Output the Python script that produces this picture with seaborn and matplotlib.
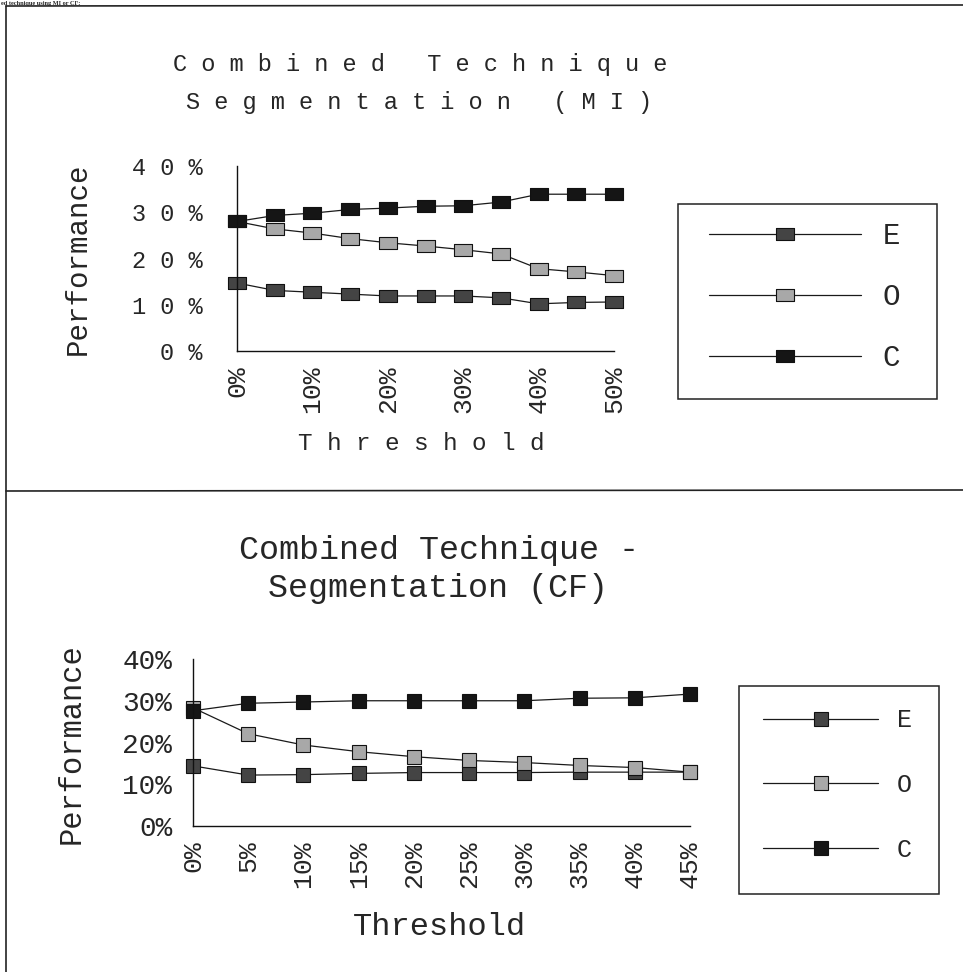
import matplotlib
matplotlib.use("Agg")
import matplotlib.pyplot as plt
from matplotlib.lines import Line2D
from matplotlib.patches import Rectangle
import pandas as pd
import seaborn as sns

# ---------------- data ----------------
series_names = ["E", "O", "C"]

mi_threshold = [0, 5, 10, 15, 20, 25, 30, 35, 40, 45, 50]
mi_E = [14.7, 13.1, 12.7, 12.3, 11.9, 11.9, 11.9, 11.5, 10.2, 10.5, 10.6]
mi_O = [28.0, 26.4, 25.5, 24.3, 23.4, 22.7, 21.9, 21.0, 17.8, 17.1, 16.3]
mi_C = [28.0, 29.3, 29.8, 30.6, 30.9, 31.3, 31.4, 32.2, 33.9, 33.9, 33.9]

cf_threshold = [0, 5, 10, 15, 20, 25, 30, 35, 40, 45]
cf_E = [14.4, 12.2, 12.3, 12.6, 12.8, 12.8, 12.8, 12.9, 12.9, 12.9]
cf_O = [28.3, 22.1, 19.4, 17.8, 16.6, 15.7, 15.2, 14.5, 14.0, 12.9]
cf_C = [27.6, 29.4, 29.7, 30.0, 30.0, 30.0, 30.0, 30.6, 30.7, 31.6]

y_ticks = [0, 10, 20, 30, 40]
mi_yticklabels = ["0 %", "1 0 %", "2 0 %", "3 0 %", "4 0 %"]
cf_yticklabels = ["0%", "10%", "20%", "30%", "40%"]
mi_xticklabels = ["0%", "", "10%", "", "20%", "", "30%", "", "40%", "", "50%"]
cf_xticklabels = ["0%", "5%", "10%", "15%", "20%", "25%", "30%", "35%", "40%", "45%"]

mi_title = ["C o m b i n e d   T e c h n i q u e", "S e g m e n t a t i o n   ( M I )"]
cf_title = ["Combined Technique -", "Segmentation (CF)"]
caption = "ed technique using MI or CF:"

# ---------------- style ----------------
sns.set_style("white")
plt.rcParams["font.family"] = ["Liberation Mono", "DejaVu Sans Mono"]

W, H = 963, 972
fig = plt.figure(figsize=(W / 100, H / 100), dpi=100)

face = {"E": "#444444", "O": "#a8a8a8", "C": "#151515"}
rect_marker = [(-1, -0.6), (1, -0.6), (1, 0.6), (-1, 0.6), (-1, -0.6)]


def fx(px):
    return px / W


def fy(py):
    return 1 - py / H


def draw_panel(ax, thr, vals, marker, msize):
    for name, v in zip(series_names, vals):
        df = pd.DataFrame({"Threshold": thr, "Performance": v})
        sns.lineplot(data=df, x="Threshold", y="Performance", ax=ax,
                     color="#1a1a1a", lw=0.9, marker=marker, markersize=msize,
                     markerfacecolor=face[name], markeredgecolor="#111111",
                     markeredgewidth=0.8, errorbar=None, clip_on=False,
                     label=name, legend=False)
    sns.despine(ax=ax)
    for s in ("left", "bottom"):
        ax.spines[s].set_linewidth(1.0)
        ax.spines[s].set_color("#111111")
    ax.set_ylim(0, 40)
    ax.set_yticks(y_ticks)
    ax.set_xticks(thr)
    ax.set_xlim(thr[0], thr[-1])


# ---------------- top panel (MI) ----------------
ax1 = fig.add_axes([fx(237), fy(351), fx(614) - fx(237), fy(166) - fy(351)])
draw_panel(ax1, mi_threshold, [mi_E, mi_O, mi_C], rect_marker, 13.5)
ax1.set_yticklabels(mi_yticklabels, fontsize=17)
ax1.set_xticklabels(mi_xticklabels, rotation=90, fontsize=19)
ax1.tick_params(axis="y", direction="in", length=4, width=0.9, pad=25)
ax1.tick_params(axis="x", direction="in", length=4, width=0.9, pad=10)
ax1.set_ylabel("Performance", fontsize=21)
ax1.yaxis.label.set_va("center")
ax1.yaxis.set_label_coords((78 - 237) / 377, (351 - 259) / 185)
ax1.set_xlabel("T h r e s h o l d", fontsize=17.5)
ax1.xaxis.label.set_va("center")
ax1.xaxis.set_label_coords((421 - 237) / 377, (351 - 443) / 185)

fig.text(fx(420), fy(65), mi_title[0], ha="center", va="center", fontsize=17)
fig.text(fx(419), fy(102), mi_title[1], ha="center", va="center", fontsize=17)

fig.add_artist(Rectangle((fx(678), fy(399)), fx(937) - fx(678), fy(204) - fy(399),
                         transform=fig.transFigure, fill=False, lw=1.1, ec="#222222"))
fig.legend(ax1.get_lines()[:3], series_names, loc="center left",
           bbox_to_anchor=(fx(709), fy(297)), frameon=False, borderpad=0,
           borderaxespad=0, handlelength=5.2, handletextpad=0.75,
           labelspacing=1.14, prop={"family": ["Liberation Mono"], "size": 21})

# ---------------- bottom panel (CF) ----------------
ax2 = fig.add_axes([fx(193), fy(826), fx(690) - fx(193), fy(659) - fy(826)])
draw_panel(ax2, cf_threshold, [cf_E, cf_O, cf_C], "s", 10)
ax2.set_yticklabels(cf_yticklabels, fontsize=20)
ax2.set_xticklabels(cf_xticklabels, rotation=90, fontsize=19)
ax2.tick_params(axis="y", direction="in", length=4, width=0.9, pad=15)
ax2.tick_params(axis="x", direction="in", length=4, width=0.9, pad=10)
ax2.set_ylabel("Performance", fontsize=22)
ax2.yaxis.label.set_va("center")
ax2.yaxis.set_label_coords((72 - 193) / 497, (826 - 744) / 167)
ax2.set_xlabel("Threshold", fontsize=23)
ax2.xaxis.label.set_va("center")
ax2.xaxis.set_label_coords((440 - 193) / 497, (826 - 927) / 167)

fig.text(fx(439), fy(550), cf_title[0], ha="center", va="center", fontsize=24)
fig.text(fx(438), fy(588), cf_title[1], ha="center", va="center", fontsize=24)

fig.add_artist(Rectangle((fx(739), fy(894)), fx(939) - fx(739), fy(686) - fy(894),
                         transform=fig.transFigure, fill=False, lw=1.1, ec="#222222"))
fig.legend(ax2.get_lines()[:3], series_names, loc="center left",
           bbox_to_anchor=(fx(763), fy(785)), frameon=False, borderpad=0,
           borderaxespad=0, handlelength=4.6, handletextpad=0.75,
           labelspacing=1.63, prop={"family": ["Liberation Mono"], "size": 18})

# ---------------- page frame ----------------
fig.add_artist(Line2D([fx(6), 1], [fy(6), fy(5)], transform=fig.transFigure,
                      color="#222222", lw=1.2))
fig.add_artist(Line2D([fx(6), fx(6)], [fy(6), 0], transform=fig.transFigure,
                      color="#222222", lw=1.2))
fig.add_artist(Line2D([fx(6), 1], [fy(491), fy(490)], transform=fig.transFigure,
                      color="#222222", lw=1.2))
fig.text(fx(1), fy(0.5), caption, ha="left", va="top", fontsize=4.5,
         family=["Liberation Serif"], fontweight="bold")

fig.savefig("out.png", dpi=100)
